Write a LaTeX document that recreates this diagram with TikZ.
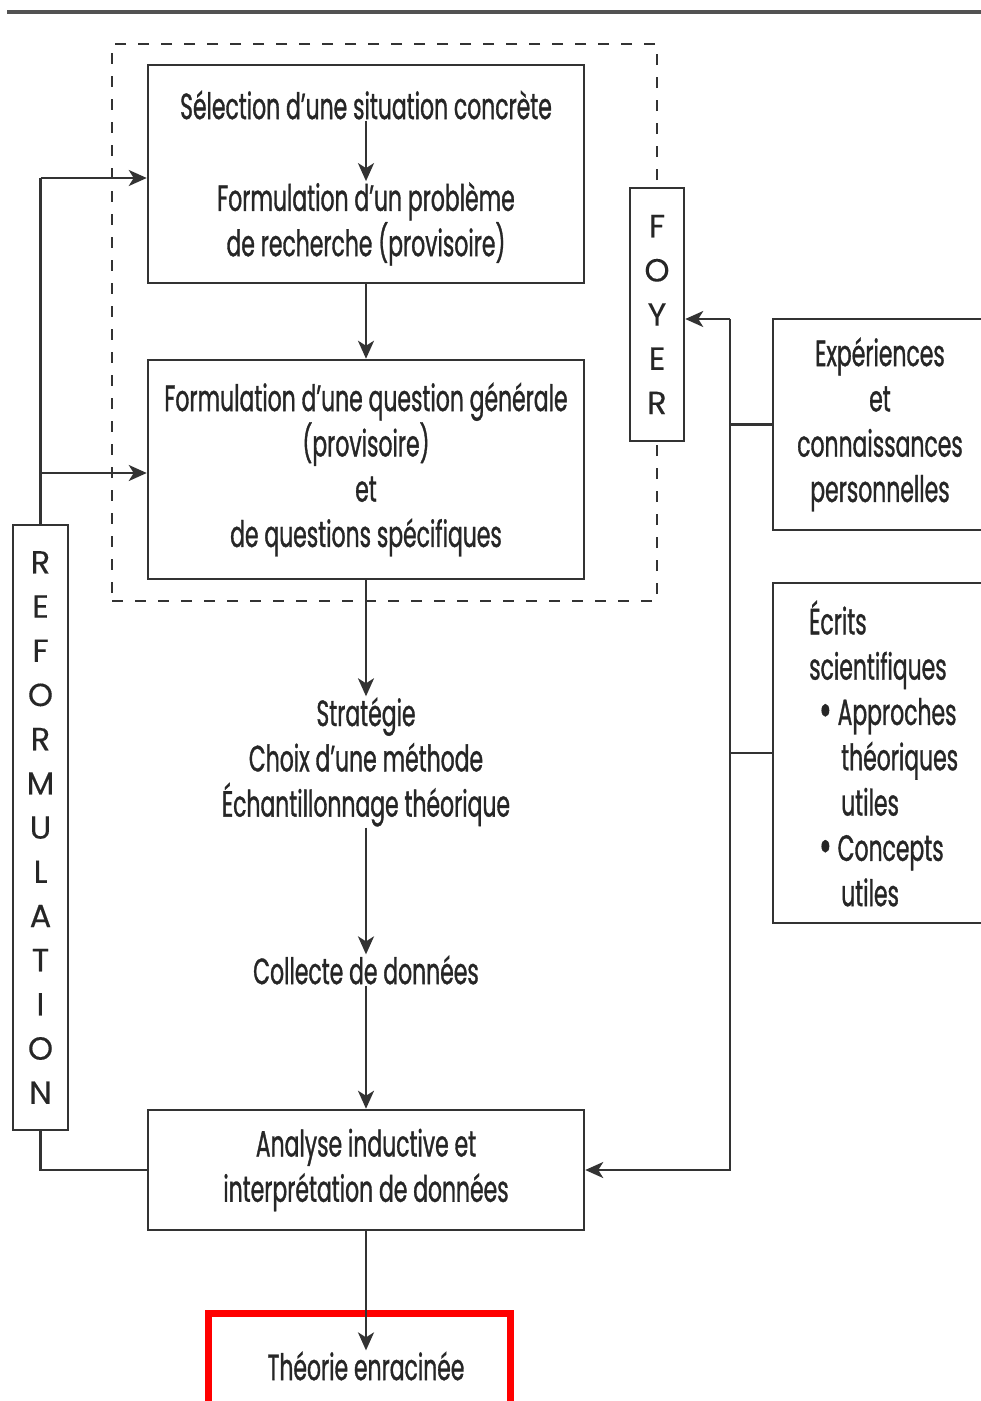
\documentclass[tikz,border=0pt]{standalone}
\usepackage{fontspec}
\setmainfont[FakeStretch=0.6,FakeBold=0.9]{Poppins}
\newfontfamily\lettersfont[FakeBold=0.3]{Poppins}
\usetikzlibrary{arrows.meta}

\definecolor{ink}{HTML}{262626}
\definecolor{stroke}{HTML}{333333}
\definecolor{highlight}{HTML}{FF0000}

\newcommand{\bigdot}{\raisebox{-2pt}{\fontsize{50}{45}\selectfont\textbullet}}

\begin{document}
\begin{tikzpicture}[x=1pt,y=-1pt,
  line/.style={draw=stroke, line width=2.5pt},
  arr/.style={line, -{Stealth[length=18pt,width=16pt,inset=5pt]}},
  box/.style={line, fill=white, inner sep=0pt},
  txt/.style={text=ink, font=\fontsize{36.5}{45.3}\selectfont, align=center, inner sep=1pt},
  stack/.style={box, text=ink, font=\lettersfont\fontsize{32}{44.2}\selectfont, align=center},
  groupbox/.style={draw=stroke, line width=2.2pt, dash pattern=on 11pt off 12pt, inner sep=0pt},
]
\useasboundingbox (0,0) rectangle (981,1401);
\clip (0,0) rectangle (981,1401);

% heading rule
\draw[stroke!85, line width=4pt] (7,12) -- (981,12);

% dashed group around the first two steps
\node[groupbox, minimum width=545pt, minimum height=557pt] (grp) at (384.5,322.5) {};

% first step
\node[box, minimum width=436pt, minimum height=218pt] (b1) at (366,174) {};
\node[txt] (b1a) at (366,105) {Sélection d’une situation concrète};
\node[txt] (b1b) at (366,224) {Formulation d’un problème\\de recherche (provisoire)};
\draw[arr] (b1a.south) -- (b1b.north);

% second step
\node[box, txt, minimum width=436pt, minimum height=219pt, inner sep=0pt] (b2) at (366,469.5)
  {Formulation d’une question générale\\(provisoire)\\et\\de questions spécifiques};

% strategy, collection
\node[txt] (strat) at (366,762) {Stratégie\\Choix d’une méthode\\Échantillonnage théorique};
\node[txt] (coll) at (366,970) {Collecte de données};

% analysis
\node[box, txt, minimum width=436pt, minimum height=120pt, inner sep=0pt] (b3) at (366,1170)
  {Analyse inductive et\\interprétation de données};

% outcome
\node[draw=highlight, line width=7pt, minimum width=302pt, minimum height=120pt, inner sep=0pt] (hl) at (359,1373) {};
\node[txt] (theo) at (366,1366) {Théorie enracinée};

% vertical labels
\node[stack, minimum width=54pt, minimum height=253pt] (foyer) at (657,314.5) {F\\O\\Y\\E\\R};
\node[stack, minimum width=55pt, minimum height=605pt] (reform) at (40.5,827.5)
  {R\\E\\F\\O\\R\\M\\U\\L\\A\\T\\I\\O\\N};

% side sources
\node[box, txt, minimum width=214pt, minimum height=211pt, inner sep=0pt] (exp) at (880,424.5)
  {Expériences\\et\\connaissances\\personnelles};
\node[box, minimum width=214pt, minimum height=340pt] (ecr) at (880,753) {};
\node[txt, anchor=west, align=left] (ecrt) at (808,753.5)
  {Écrits\\scientifiques\\\hspace*{10pt}\bigdot\,Approches\\\hspace*{32pt}théoriques\\\hspace*{32pt}utiles\\\hspace*{10pt}\bigdot\,Concepts\\\hspace*{32pt}utiles};

% main flow
\draw[arr] (b1.south) -- (b2.north);
\draw[arr] (b2.south) -- (strat.north);
\draw[arr] (strat.south) -- (coll.north);
\draw[arr] (coll.south) -- (b3.north);
\draw[arr] (b3.south) -- (theo.north);

% reformulation loop
\coordinate (r1) at (40.5,178);
\coordinate (r2) at (40.5,473);
\draw[line] (b3.west) -| (reform.south);
\draw[line] (reform.north) -- (r1);
\draw[arr] (r1) -- (r1 -| b1.west);
\draw[arr] (r2) -- (r2 -| b2.west);

% sources bus
\coordinate (bt) at (730,319);
\coordinate (bb) at (730,1170);
\draw[arr] (bt) -- (bt -| foyer.east);
\draw[arr] (bt) -- (bb) -- (bb -| b3.east);
\draw[line] (exp.west) -- (exp.west -| bt);
\draw[line] (ecr.west) -- (ecr.west -| bt);
\end{tikzpicture}
\end{document}
